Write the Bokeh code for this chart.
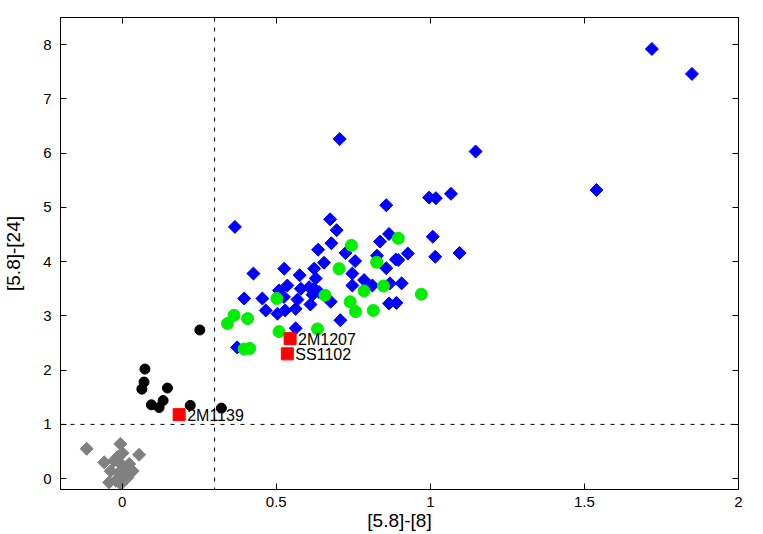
import numpy as np
from bokeh.plotting import figure
from bokeh.models import (Span, LinearAxis, FixedTicker, ColumnDataSource, Range1d,
                          CustomLabelingPolicy)
from bokeh.embed import file_html
from bokeh.resources import INLINE
from bokeh.core.properties import value

# ---- data ----
x_ticks = [0, 0.5, 1, 1.5, 2]
x_tick_labels = ["0", "0.5", "1", "1.5", "2"]
y_ticks = [0, 1, 2, 3, 4, 5, 6, 7, 8]
y_tick_labels = ["0", "1", "2", "3", "4", "5", "6", "7", "8"]
x_title = "[5.8]-[8]"
y_title = "[5.8]-[24]"

gray_x = [-0.115, -0.006, 0.001, 0.055, -0.058, -0.026, -0.004, 0.023, -0.037,
          -0.010, 0.034, 0.017, -0.042, -0.020, -0.004, 0.012, -0.015]
gray_y = [0.55, 0.64, 0.47, 0.44, 0.30, 0.33, 0.27, 0.27, 0.14,
          0.11, 0.14, 0.02, -0.07, -0.04, -0.10, 0.20, 0.40]

blue_x = [1.719, 1.849, 1.539, 0.706, 1.147, 0.857, 0.996, 1.018, 1.067, 0.675,
          0.696, 0.636, 0.679, 0.655, 0.623, 0.725, 0.756, 0.837, 0.866, 0.827,
          0.857, 0.888, 0.896, 0.927, 1.008, 1.016, 1.095, 0.366, 0.426, 0.526,
          0.576, 0.628, 0.536, 0.509, 0.580, 0.607, 0.623, 0.639, 0.618, 0.396,
          0.455, 0.525, 0.569, 0.611, 0.677, 0.466, 0.504, 0.529, 0.563, 0.708,
          0.563, 0.373, 0.747, 0.747, 0.785, 0.812, 0.869, 0.907, 0.866, 0.890]
blue_y = [7.92, 7.46, 5.32, 6.26, 6.03, 5.04, 5.18, 5.17, 5.25, 4.78,
          4.58, 4.22, 4.34, 3.98, 3.87, 4.16, 4.01, 4.37, 4.51, 4.11,
          3.88, 4.04, 4.03, 4.15, 4.46, 4.09, 4.16, 4.64, 3.78, 3.87,
          3.75, 3.69, 3.56, 3.47, 3.50, 3.53, 3.50, 3.44, 3.39, 3.32,
          3.32, 3.35, 3.30, 3.21, 3.26, 3.10, 3.04, 3.10, 3.13, 2.92,
          2.77, 2.42, 3.78, 3.56, 3.66, 3.56, 3.60, 3.60, 3.23, 3.24]

green_x = [0.502, 0.658, 0.704, 0.363, 0.407, 0.342, 0.509, 0.634, 0.396, 0.414,
           0.740, 0.757, 0.815, 0.896, 0.744, 0.826, 0.785, 0.848, 0.971]
green_y = [3.32, 3.38, 3.87, 3.01, 2.95, 2.86, 2.71, 2.76, 2.39, 2.40,
           3.26, 3.08, 3.10, 4.43, 4.30, 3.99, 3.46, 3.55, 3.40]

black_x = [0.074, 0.071, 0.064, 0.147, 0.095, 0.120, 0.133, 0.221, 0.322, 0.252]
black_y = [2.02, 1.78, 1.65, 1.67, 1.36, 1.31, 1.44, 1.35, 1.30, 2.74]

red_names = ["2M1139", "2M1207", "SS1102"]
red_x = [0.185, 0.545, 0.536]
red_y = [1.18, 2.58, 2.30]

x_cut = 0.3
y_cut = 1.0

FONT = "Liberation Sans"

p = figure(width=763, height=534, output_backend="svg", toolbar_location=None,
           x_range=Range1d(-0.2, 2.0), y_range=Range1d(-0.2, 8.5),
           min_border_left=58, min_border_right=25, min_border_top=17,
           min_border_bottom=45, background_fill_color="white",
           border_fill_color="white")
p.xgrid.visible = False
p.ygrid.visible = False
p.outline_line_color = "black"
p.outline_line_width = 1

hide_all = CustomLabelingPolicy(code="""
    for (const i of indices) { indices.unset(i) }
    return indices
""")

def style_axis(ax, ticks, labels, show_labels=True):
    ax.ticker = FixedTicker(ticks=ticks)
    ax.major_tick_in = 6
    ax.major_tick_out = 0
    ax.minor_tick_in = 0
    ax.minor_tick_out = 0
    ax.axis_line_color = "black"
    ax.major_tick_line_color = "black"
    ax.major_label_text_font = FONT
    ax.major_label_text_color = "black"
    if show_labels:
        ax.major_label_overrides = {t: l for t, l in zip(ticks, labels)}
        ax.major_label_text_font_size = "15px"
    else:
        ax.major_label_policy = hide_all
        ax.major_label_text_font_size = "1px"
        ax.major_label_standoff = 0

xa = p.xaxis[0]
style_axis(xa, x_ticks, x_tick_labels)
xa.major_label_standoff = 7
xa.axis_label = x_title
xa.axis_label_text_font = FONT
xa.axis_label_text_font_style = "normal"
xa.axis_label_text_font_size = "19px"
xa.axis_label_text_color = "black"
xa.axis_label_standoff = 0

ya = p.yaxis[0]
style_axis(ya, y_ticks, y_tick_labels)
ya.major_label_standoff = 9
ya.axis_label = y_title
ya.axis_label_text_font = FONT
ya.axis_label_text_font_style = "normal"
ya.axis_label_text_font_size = "19px"
ya.axis_label_text_color = "black"
ya.axis_label_standoff = 16

top = LinearAxis()
style_axis(top, x_ticks, x_tick_labels, show_labels=False)
p.add_layout(top, "above")
right = LinearAxis()
style_axis(right, y_ticks, y_tick_labels, show_labels=False)
p.add_layout(right, "right")

p.add_layout(Span(location=x_cut, dimension="height", line_color="black",
                  line_width=1, line_dash="4 6"))
p.add_layout(Span(location=y_cut, dimension="width", line_color="black",
                  line_width=1, line_dash="4 6"))

p.scatter(gray_x, gray_y, marker="square", angle=np.pi / 4, size=9.2,
          fill_color="#808080", line_color="#808080")
p.scatter(blue_x, blue_y, marker="square", angle=np.pi / 4, size=9.2,
          fill_color="#0000ff", line_color="#0000ff")
p.scatter(green_x, green_y, marker="circle", size=12,
          fill_color="#00ee00", line_color="#00ee00")
p.scatter(black_x, black_y, marker="circle", size=10,
          fill_color="black", line_color="black")

src = ColumnDataSource(dict(x=red_x, y=red_y, name=red_names))
p.scatter("x", "y", source=src, marker="square", size=12,
          fill_color="#ff0000", line_color="#ff0000")
p.text("x", "y", text="name", source=src, x_offset=8, y_offset=1,
       text_font=value(FONT), text_font_size="16px", text_color="black",
       text_baseline="middle", text_align="left")

open("out.html", "w").write(file_html(p, INLINE))
